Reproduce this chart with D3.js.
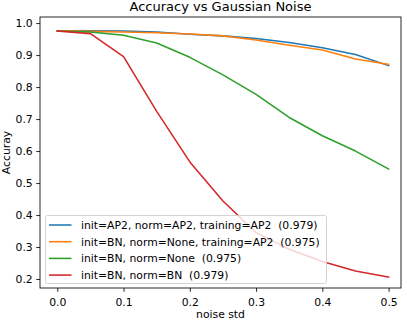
<!DOCTYPE html>
<html>
<head>
<meta charset="utf-8">
<script src="https://cdn.jsdelivr.net/npm/d3@7"></script>
<style>
  body { margin: 0; background: #fff; }
  text { font-family: "DejaVu Sans", sans-serif; fill: #000; white-space: pre; }
</style>
</head>
<body>
<script>

// Noise levels (x axis)
var noiseStd = [0, 0.05, 0.1, 0.15, 0.2, 0.25, 0.3, 0.35, 0.4, 0.45, 0.5];

// Accuracy per run
var accAP2 = [0.976, 0.976, 0.975, 0.972, 0.965, 0.960, 0.952, 0.939, 0.923, 0.902, 0.867];
var accBNNoneAP2 = [0.976, 0.974, 0.972, 0.970, 0.966, 0.960, 0.947, 0.931, 0.916, 0.888, 0.871];
var accBNNone = [0.975, 0.972, 0.962, 0.938, 0.893, 0.838, 0.777, 0.705, 0.648, 0.600, 0.544];
var accBNBN = [0.975, 0.967, 0.895, 0.724, 0.566, 0.444, 0.345, 0.293, 0.255, 0.225, 0.206];

var seriesNames = [
  "init=AP2, norm=AP2, training=AP2  (0.979)",
  "init=BN, norm=None, training=AP2  (0.975)",
  "init=BN, norm=None  (0.975)",
  "init=BN, norm=BN  (0.979)"
];
var seriesColors = ["#1f77b4", "#ff7f0e", "#2ca02c", "#d62728"];

var xTicks = [0, 0.1, 0.2, 0.3, 0.4, 0.5];
var yTicks = [0.2, 0.3, 0.4, 0.5, 0.6, 0.7, 0.8, 0.9, 1.0];

var w = 407, h = 321;
var margin = {left: 40, right: 401, top: 17, bottom: 288};
var fontSize = 10.8;

var svg = d3.select("body").append("svg")
  .attr("width", w)
  .attr("height", h);

var xScale = d3.scaleLinear()
  .domain([-0.0261, 0.5187])
  .range([margin.left, margin.right]);

var yScale = d3.scaleLinear()
  .domain([0.172, 1.019])
  .range([margin.bottom, margin.top]);

// axes
var xAxis = d3.axisBottom(xScale)
  .tickValues(xTicks)
  .tickFormat(d3.format(".1f"))
  .tickSize(3.8)
  .tickPadding(6.5);

var yAxis = d3.axisLeft(yScale)
  .tickValues(yTicks)
  .tickFormat(d3.format(".1f"))
  .tickSize(3.8)
  .tickPadding(3.5);

var gx = svg.append("g")
  .attr("transform", `translate(0, ${margin.bottom})`)
  .call(xAxis);
var gy = svg.append("g")
  .attr("transform", `translate(${margin.left}, 0)`)
  .call(yAxis);

[gx, gy].forEach(function(g){
  g.select(".domain").remove();
  g.selectAll("line").attr("stroke", "#000").attr("stroke-width", 0.85);
  g.selectAll("text")
    .style("font-family", "DejaVu Sans, sans-serif")
    .style("font-size", fontSize + "px")
    .attr("fill", "#000");
});

// lines
var line = d3.line()
  .x(function(d, i){ return xScale(noiseStd[i]); })
  .y(function(d){ return yScale(d); });

var allSeries = [accAP2, accBNNoneAP2, accBNNone, accBNBN];

svg.append("g").selectAll("path")
  .data(allSeries)
  .enter()
  .append("path")
  .attr("d", line)
  .attr("fill", "none")
  .attr("stroke", function(d, i){ return seriesColors[i]; })
  .attr("stroke-width", 1.55)
  .attr("stroke-linejoin", "round")
  .attr("stroke-linecap", "square");

// frame
svg.append("rect")
  .attr("x", margin.left)
  .attr("y", margin.top)
  .attr("width", margin.right - margin.left)
  .attr("height", margin.bottom - margin.top)
  .attr("fill", "none")
  .attr("stroke", "#000")
  .attr("stroke-width", 0.85);

// title and axis labels
svg.append("text")
  .attr("x", (margin.left + margin.right) / 2)
  .attr("y", 10.5)
  .attr("text-anchor", "middle")
  .style("font-size", "13px")
  .text("Accuracy vs Gaussian Noise");

svg.append("text")
  .attr("x", (margin.left + margin.right) / 2)
  .attr("y", 318)
  .attr("text-anchor", "middle")
  .style("font-size", fontSize + "px")
  .text("noise std");

svg.append("text")
  .attr("transform", `translate(10, ${(margin.top + margin.bottom) / 2}) rotate(-90)`)
  .attr("text-anchor", "middle")
  .style("font-size", fontSize + "px")
  .text("Accuray");

// legend
var legend = svg.append("g");
legend.append("rect")
  .attr("x", 45.5)
  .attr("y", 215.5)
  .attr("width", 281)
  .attr("height", 68)
  .attr("rx", 2)
  .attr("fill", "#fff")
  .attr("fill-opacity", 0.8)
  .attr("stroke", "#cccccc")
  .attr("stroke-width", 0.85);

var rows = legend.selectAll("g.row")
  .data(seriesNames)
  .enter()
  .append("g")
  .attr("class", "row")
  .attr("transform", function(d, i){ return "translate(0," + (225 + i * 16.7) + ")"; });

rows.append("line")
  .attr("x1", 49)
  .attr("x2", 71.5)
  .attr("stroke", function(d, i){ return seriesColors[i]; })
  .attr("stroke-width", 1.55);

rows.append("text")
  .attr("x", 81)
  .attr("y", 3.9)
  .style("font-size", fontSize + "px")
  .text(function(d){ return d; });

</script>
</body>
</html>
